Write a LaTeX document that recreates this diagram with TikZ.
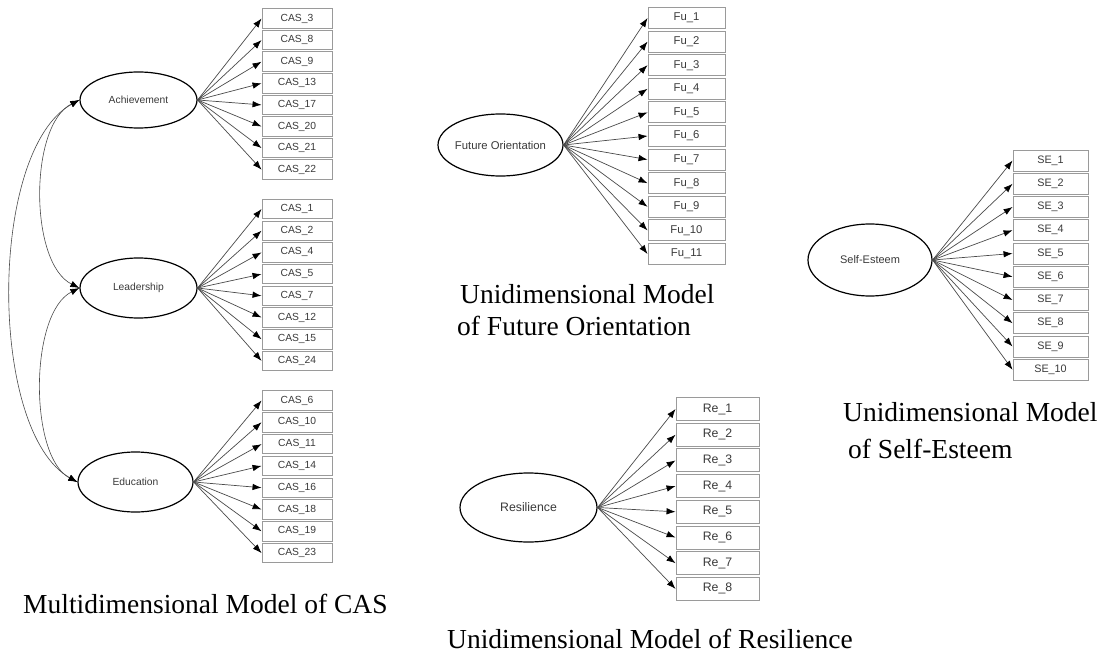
\documentclass[tikz,border=0pt]{standalone}
\usepackage{fontspec}
\setmainfont{Liberation Serif}
\newfontfamily\boxfont{Liberation Sans}
\usetikzlibrary{arrows.meta,shapes.geometric}
\definecolor{linegray}{HTML}{4A4A4A}
\definecolor{boxgray}{HTML}{9A9A9A}
\definecolor{txtgray}{HTML}{3A3A3A}
\tikzset{
  latent/.style={ellipse, draw=black, line width=1.2pt, inner sep=0pt},
  ltxt/.style={font=\boxfont\fontsize{10.3}{12}\selectfont, text=txtgray, inner sep=0pt},
  obs/.style={rectangle, draw=boxgray, line width=0.9pt, inner sep=0pt, font=\boxfont\fontsize{10.3}{12}\selectfont, text=txtgray},
  load/.style={draw=linegray, line width=0.7pt, -{Latex[length=9pt,width=6.5pt,color=black]}},
  cov/.style={draw=linegray, line width=0.6pt, {Latex[length=9pt,width=6.5pt,color=black]}-{Latex[length=9pt,width=6.5pt,color=black]}},
  caption/.style={font=\fontsize{27.5}{30}\selectfont, anchor=base west, inner sep=0pt, text=black}
}
\begin{document}
\begin{tikzpicture}[x=1pt,y=-1pt]
\fill[white] (0,0) rectangle (1115,655);
\useasboundingbox (0,0) rectangle (1115,655);

% ---------- CAS multidimensional model ----------
\node[latent, minimum width=117pt, minimum height=56pt] (ach) at (138.5,100) {};
\node[ltxt] (achL) at (ach) {Achievement};
\node[latent, minimum width=117pt, minimum height=60pt] (lead) at (138.5,288) {};
\node[ltxt] (leadL) at (lead) {Leadership};
\node[latent, minimum width=115pt, minimum height=60pt] (edu) at (135.5,482) {};
\node[ltxt] (eduL) at (edu) {Education};

\foreach \n [count=\i from 0] in {3,8,9,13,17,20,21,22} {
  \node[obs, minimum width=70pt, minimum height=19.5pt] (cas\n) at (297,{18.5+\i*21.6}) {CAS\_\n};
  \draw[load] (ach.east) -- (cas\n.west);
}
\foreach \n [count=\i from 0] in {1,2,4,5,7,12,15,24} {
  \node[obs, minimum width=70pt, minimum height=19.5pt] (cas\n) at (297,{209+\i*21.7}) {CAS\_\n};
  \draw[load] (lead.east) -- (cas\n.west);
}
\foreach \n [count=\i from 0] in {6,10,11,14,16,18,19,23} {
  \node[obs, minimum width=70pt, minimum height=19.5pt] (cas\n) at (297,{400.5+\i*21.8}) {CAS\_\n};
  \draw[load] (edu.east) -- (cas\n.west);
}

\draw[cov] (ach.west) .. controls (29,125) and (29,263) .. (lead.west);
\draw[cov] (lead.west) .. controls (29,313) and (29,457) .. (edu.west);
\draw[cov] (ach.west) .. controls (-12,150) and (-12,432) .. (edu.west);

\node[caption] (capCAS) at (23,613) {Multidimensional Model of CAS};

% ---------- Future Orientation ----------
\node[latent, minimum width=125pt, minimum height=62pt] (fo) at (500.5,145) {};
\node[ltxt, font=\boxfont\fontsize{11.3}{13}\selectfont] (foL) at (fo) {Future Orientation};
\foreach \n [count=\i from 0] in {1,...,11} {
  \node[obs, minimum width=77pt, minimum height=21pt, font=\boxfont\fontsize{11.3}{13}\selectfont] (fu\n) at (686.5,{18+\i*23.6}) {Fu\_\n};
  \draw[load] (fo.east) -- (fu\n.west);
}
\node[caption] (capFO1) at (460,303) {Unidimensional Model};
\node[caption] (capFO2) at (457,335) {of Future Orientation};

% ---------- Self-Esteem ----------
\node[latent, minimum width=124pt, minimum height=72pt] (se) at (870,260) {};
\node[ltxt, font=\boxfont\fontsize{11}{13}\selectfont] (seL) at (se) {Self-Esteem};
\foreach \n [count=\i from 0] in {1,...,10} {
  \node[obs, minimum width=75pt, minimum height=21pt, font=\boxfont\fontsize{10.8}{13}\selectfont] (se\n) at (1050.5,{160.5+\i*23.25}) {SE\_\n};
  \draw[load] (se.east) -- (se\n.west);
}
\node[caption] (capSE1) at (843,421) {Unidimensional Model};
\node[caption] (capSE2) at (848,458) {of Self-Esteem};

% ---------- Resilience ----------
\node[latent, minimum width=137pt, minimum height=69pt] (res) at (528.5,507.5) {};
\node[ltxt, font=\boxfont\fontsize{12.3}{14}\selectfont] (resL) at (res) {Resilience};
\foreach \n [count=\i from 0] in {1,...,8} {
  \node[obs, minimum width=83pt, minimum height=23pt, font=\boxfont\fontsize{12.3}{14}\selectfont] (re\n) at (717.5,{409+\i*25.7}) {Re\_\n};
  \draw[load] (res.east) -- (re\n.west);
}
\node[caption] (capRE) at (447,648) {Unidimensional Model of Resilience};
\end{tikzpicture}
\end{document}
